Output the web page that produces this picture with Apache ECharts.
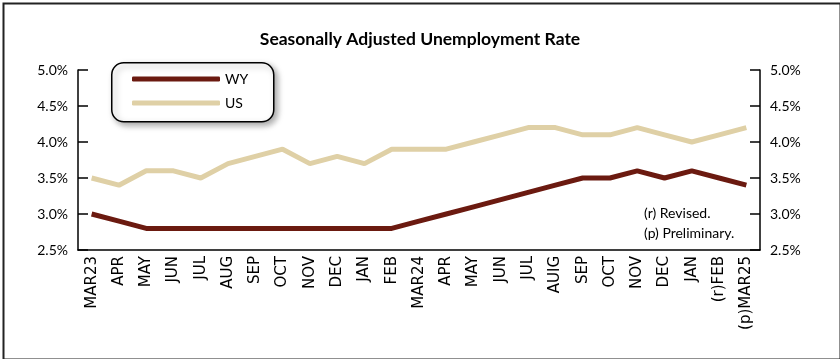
<!DOCTYPE html>
<html><head><meta charset="utf-8">
<script src="https://cdn.jsdelivr.net/npm/echarts@6/dist/echarts.min.js"></script>
<style>html,body{margin:0;padding:0;background:#fff}#c{width:840px;height:359px}</style>
</head><body><div id="c"></div>
<script>
const categories = ['MAR23','APR','MAY','JUN','JUL','AUG','SEP','OCT','NOV','DEC','JAN','FEB','MAR24','APR','MAY','JUN','JUL','AUIG','SEP','OCT','NOV','DEC','JAN','(r)FEB','(p)MAR25'];
const wyValues = [3.0,2.9,2.8,2.8,2.8,2.8,2.8,2.8,2.8,2.8,2.8,2.8,2.9,3.0,3.1,3.2,3.3,3.4,3.5,3.5,3.6,3.5,3.6,3.5,3.4];
const usValues = [3.5,3.4,3.6,3.6,3.5,3.7,3.8,3.9,3.7,3.8,3.7,3.9,3.9,3.9,4.0,4.1,4.2,4.2,4.1,4.1,4.2,4.1,4.0,4.1,4.2];
const titleText = 'Seasonally Adjusted Unemployment Rate';
const notes = ['(r) Revised.', '(p) Preliminary.'];

const WY = '#6B1A10', US = '#DFD0A6';
const chart = echarts.init(document.getElementById('c'));
const yAx = (pos) => ({
  type:'value', position:pos, min:2.5, max:5.0, interval:0.5,
  axisLine:{show:true, lineStyle:{color:'#000', width:1.5}},
  axisTick:{show:true, inside:true, length:10, lineStyle:{color:'#000', width:1.5}},
  splitLine:{show:false},
  axisLabel:{formatter:v=>v.toFixed(1)+'%', color:'#000', fontFamily:'Lato', fontSize:14, margin:10}
});
chart.setOption({
  animation:false,
  title:{text:titleText, left:'center', top:25, textStyle:{fontFamily:'Lato', fontWeight:'bold', fontSize:17.5, color:'#000'}},
  grid:{left:78, right:80, top:70, bottom:109},
  legend:{orient:'vertical', left:127, top:67, itemWidth:88, itemHeight:5, itemGap:10, icon:'roundRect',
    textStyle:{fontFamily:'Lato', fontSize:14, color:'#000', padding:[0,0,0,0]},
    data:[{name:'WY'},{name:'US'}]},
  xAxis:{type:'category', data:categories, boundaryGap:true,
    axisLine:{lineStyle:{color:'#000', width:1.5}},
    axisTick:{inside:true, length:4, lineStyle:{color:'#000'}},
    axisLabel:{rotate:90, interval:0, color:'#000', fontFamily:'DejaVu Sans', fontSize:15, margin:6}},
  yAxis:[yAx('left'), yAx('right')],
  series:[
    {name:'WY', type:'line', data:wyValues, symbol:'none', lineStyle:{color:WY, width:5}, itemStyle:{color:WY}, z:3},
    {name:'US', type:'line', data:usValues, symbol:'none', lineStyle:{color:US, width:5}, itemStyle:{color:US}, z:2}
  ],
  graphic:[
    {type:'rect', left:1, top:1, shape:{width:837, height:356}, style:{fill:'none', stroke:'#222', lineWidth:2}, z:-1},
    {type:'rect', left:111, top:62, shape:{width:162, height:59, r:12}, style:{fill:'#fff', stroke:'#000', lineWidth:1.5, shadowBlur:6, shadowOffsetX:3, shadowOffsetY:3, shadowColor:'rgba(0,0,0,0.35)'}, z:0},
    {type:'text', left:644, top:203, style:{text:notes.join('\n'), font:'14px Lato', fill:'#000', lineHeight:20}, z:5}
  ]
});
</script></body></html>
